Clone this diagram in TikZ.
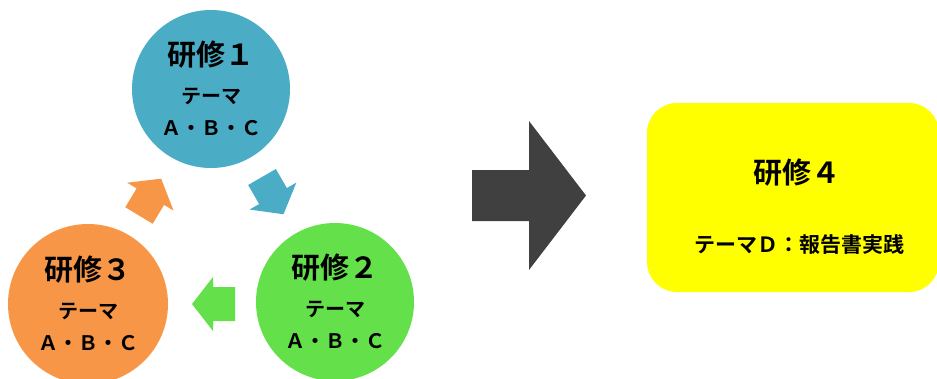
\documentclass[tikz,border=0pt]{standalone}
\usepackage{fontspec}
\setmainfont{Noto Sans CJK JP}[BoldFont={* Bold}]
\usetikzlibrary{positioning}

\definecolor{kenblue}{HTML}{4BACC6}
\definecolor{kengreen}{HTML}{63E04A}
\definecolor{kenorange}{HTML}{F79646}
\definecolor{kenyellow}{HTML}{FFFF00}
\definecolor{kendark}{HTML}{404040}

% block arrow from (0,0) along +x: length, shaft half, head half, head length
\newcommand\blockarrow[4]{(0,-#2) -- ({#1-#4},-#2) -- ({#1-#4},-#3) -- (#1,0)
  -- ({#1-#4},#3) -- ({#1-#4},#2) -- (0,#2) -- cycle}

\begin{document}
\begin{tikzpicture}
          [x=1pt,y=-1pt,every node/.style={font=\bfseries},
           kenshu/.style={circle,minimum size=158pt,inner sep=0pt},
           title/.style={font=\bfseries\fontsize{29}{31}\selectfont},
           theme/.style={font=\bfseries\fontsize{20}{22}\selectfont}]
          \useasboundingbox (0,0) rectangle (937,378);

          \node[kenshu,fill=kenblue] (c1) at (211,89) {};
          \node[kenshu,fill=kengreen] (c2) at (335,302) {};
          \node[kenshu,fill=kenorange,minimum size=160pt] (c3) at (88,304) {};

          \foreach \c/\n in {c1/１,c2/２,c3/３} {
            \node[title] (t\c) at ([yshift=34pt]\c) {研修\n};
            \node[theme] (h\c) at ([yshift=-7pt]\c) {テーマ};
            \node[theme] (a\c) at ([yshift=-39pt]\c) {Ａ・Ｂ・Ｃ};
          }

          \node[fill=kenyellow,rounded corners=30pt,minimum width=292pt,
                minimum height=189pt] (d) at (793,197.5) {};
          \node[title] (td) at (797,173) {研修４};
          \node[theme,font=\bfseries\fontsize{21}{23}\selectfont] (hd) at (799,245) {テーマＤ：報告書実践};

          % cycle arrows
          \fill[kenblue,shift={(262,177)},rotate=-60] \blockarrow{43}{16}{27}{21};
          \fill[kengreen,shift={(235,304)},rotate=180] \blockarrow{43}{17}{27}{21};
          \fill[kenorange,shift={(139,215.5)},rotate=59] \blockarrow{43}{16}{27}{21};
          \fill[kendark,shift={(472,195.5)}] \blockarrow{114}{25.5}{74.5}{57};

        \end{tikzpicture}
\end{document}
